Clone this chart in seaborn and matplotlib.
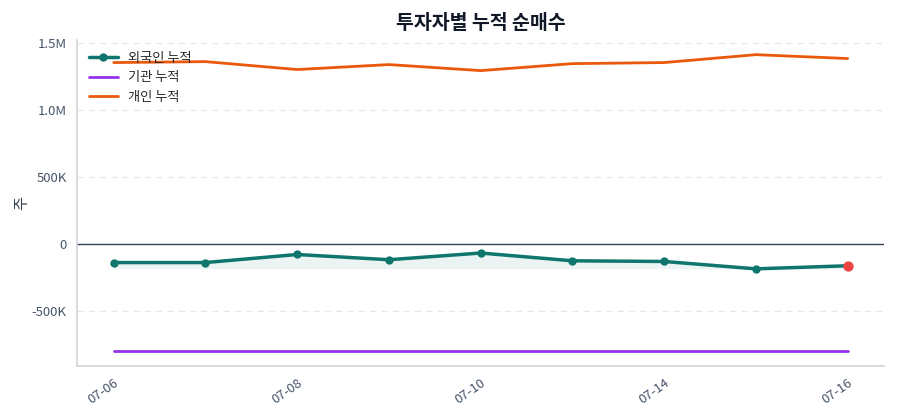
import numpy as np
import pandas as pd
import matplotlib
matplotlib.use("Agg")
import matplotlib.pyplot as plt
import seaborn as sns

# 데이터
dates = ["07-06", "07-07", "07-08", "07-09", "07-10", "07-13", "07-14", "07-15", "07-16"]
foreign_cum = [-140000, -140000, -80000, -119000, -69000, -127000, -132000, -187000, -164000]
inst_cum = [-800000] * 9
indiv_cum = [1351000, 1358000, 1299000, 1336000, 1291000, 1343000, 1351000, 1410000, 1381000]
tick_labels = ["07-06", "07-08", "07-10", "07-14", "07-16"]

sns.set_theme(style="white")
plt.rcParams["font.family"] = ["Noto Sans CJK KR", "DejaVu Sans"]
plt.rcParams["axes.unicode_minus"] = False

df = pd.DataFrame({
    "idx": np.arange(len(dates)),
    "date": dates,
    "외국인 누적": foreign_cum,
    "기관 누적": inst_cum,
    "개인 누적": indiv_cum,
})

fig = plt.figure(figsize=(9, 4.2), dpi=100)
ax = fig.add_axes([0.0856, 0.129, 0.897, 0.776])

teal = "#0f766e"
purple = "#9333ea"
orange = "#ea580c"

ax.fill_between(df["idx"], df["외국인 누적"], min(foreign_cum), color=teal, alpha=0.08, lw=0)
sns.lineplot(data=df, x="idx", y="외국인 누적", ax=ax, color=teal, lw=2.5,
             marker="o", markersize=6, markeredgewidth=0, label="외국인 누적")
sns.lineplot(data=df, x="idx", y="기관 누적", ax=ax, color=purple, lw=2, label="기관 누적")
sns.lineplot(data=df, x="idx", y="개인 누적", ax=ax, color=orange, lw=2, label="개인 누적")
ax.scatter(df["idx"].iloc[-1], foreign_cum[-1], s=55, color="#ef4444", zorder=5, lw=0)

ax.axhline(0, color="#334155", lw=1, zorder=1)

ax.set_xlim(-0.4, 8.4)
ax.set_ylim(-910000, 1520000)
ax.set_xticks([dates.index(t) for t in tick_labels])
ax.set_xticklabels(tick_labels, rotation=35, ha="right", rotation_mode="anchor")
ax.set_yticks([-500000, 0, 500000, 1000000, 1500000])
ax.set_yticklabels(["-500K", "0", "500K", "1.0M", "1.5M"])
ax.set_xlabel("")
ax.set_ylabel("주", color="#334155", fontsize=11, labelpad=1)

ax.grid(axis="y", color="#e5e7eb", ls=(0, (5, 4)), lw=0.9)
ax.set_axisbelow(True)
for s in ["top", "right"]:
    ax.spines[s].set_visible(False)
for s in ["left", "bottom"]:
    ax.spines[s].set_color("#d1d5db")
    ax.spines[s].set_linewidth(1.2)
ax.tick_params(axis="both", colors="#475569", labelsize=9.5, length=4, width=1, direction="out")

ax.set_title("투자자별 누적 순매수", fontsize=14, fontweight="bold", color="#111827", pad=8)
leg = ax.legend(loc="upper left", frameon=False, fontsize=9.5, handlelength=2.2,
                borderaxespad=0.5, labelspacing=0.5)

fig.savefig("out.png", dpi=100)
